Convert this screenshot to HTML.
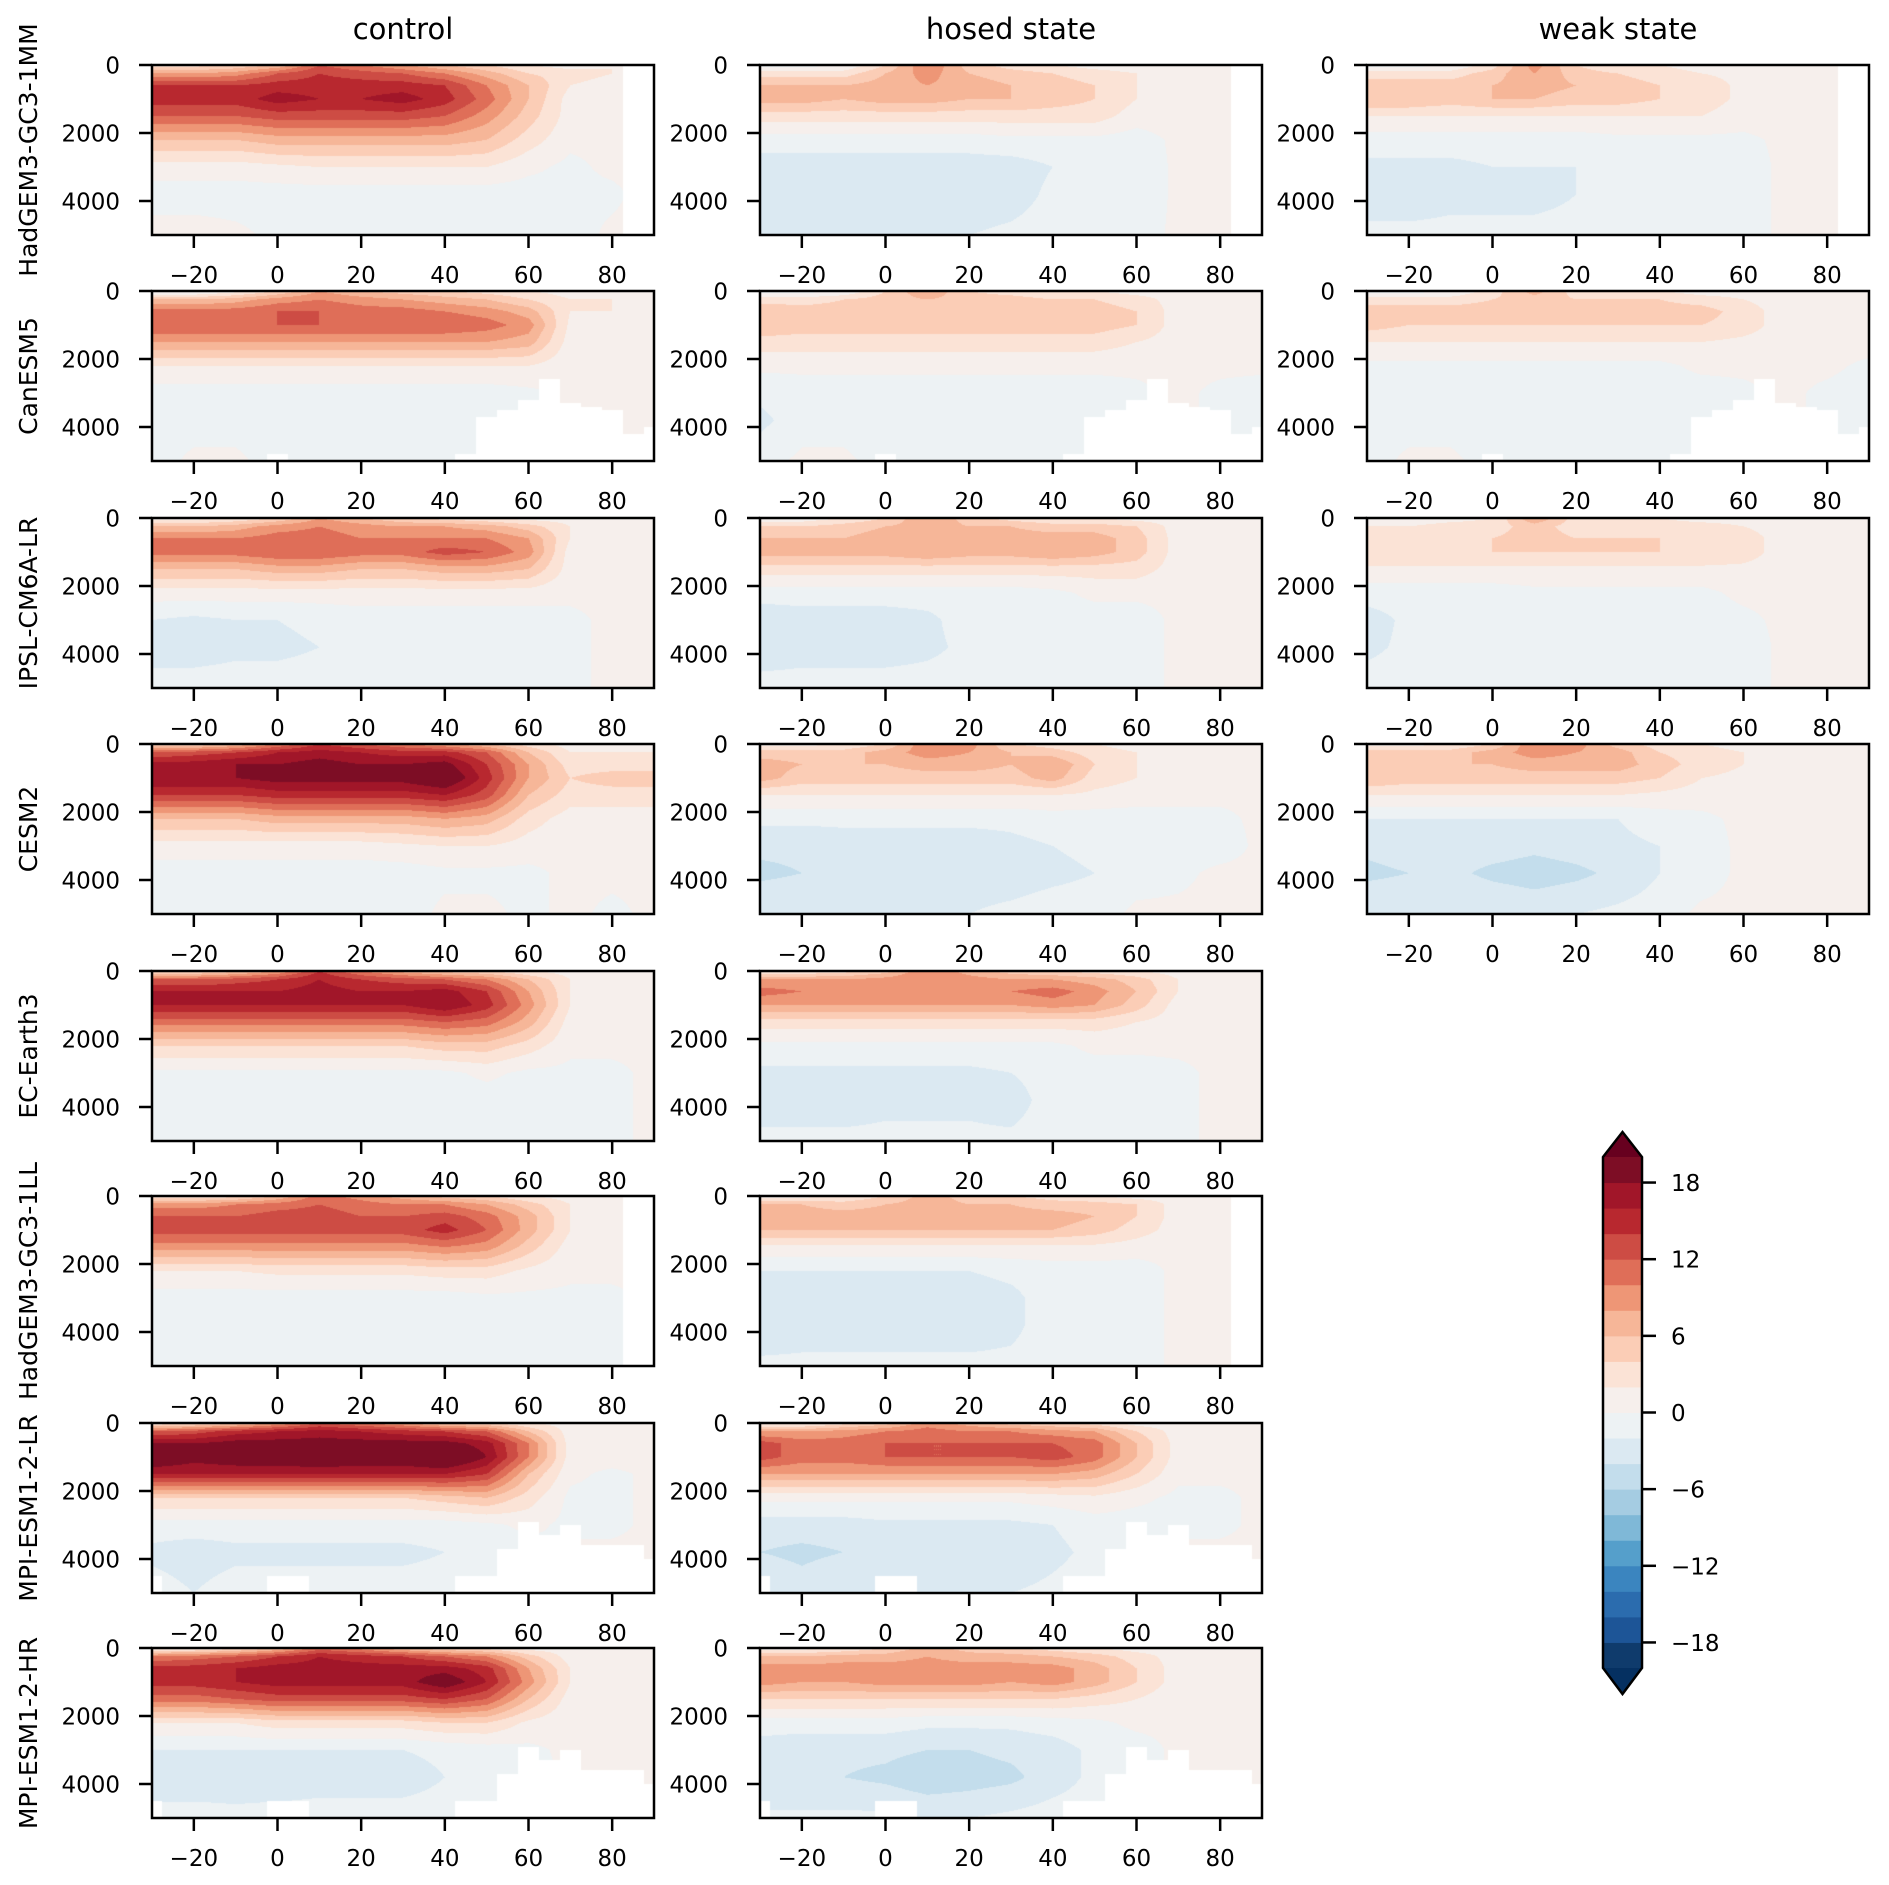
<!DOCTYPE html>
<html><head><meta charset="utf-8">
<style>
html,body{margin:0;padding:0;background:#fff;}
#wrap{position:relative;width:1889px;height:1885px;overflow:hidden;}
canvas,svg{position:absolute;left:0;top:0;}
text{font-family:"DejaVu Sans","Liberation Sans",sans-serif;fill:#000;}
</style></head>
<body>
<div id="wrap">
<canvas id="cv" width="1889" height="1885"></canvas>
<svg id="sv" width="1889" height="1885" xmlns="http://www.w3.org/2000/svg"></svg>
</div>
<script>
const lats = [-30,-20,-10,0,10,20,30,40,50,60,70,80,90];
const depths = [0,250,600,1000,1500,2200,3000,3800,5000];
const xTicks = [-20,0,20,40,60,80];
const xTickLabels = ["\u221220","0","20","40","60","80"];
const yTicks = [0,2000,4000];
const yTickLabels = ["0","2000","4000"];
const levels = [-20,-18,-16,-14,-12,-10,-8,-6,-4,-2,0,2,4,6,8,10,12,14,16,18,20];
const colors = ["#0f3b6c","#1d5597","#2b6cae","#3b85bf","#559fcb","#7fb8d7","#a5cce2","#c3ddec","#dbe9f2","#edf2f4","#f6efec","#fbe3d6","#fbcdb6","#f6b698","#ee9676","#df6e58","#cd4c44","#b8282f","#a11629","#7d0d25"];
const cbTicks = [18,12,6,0,-6,-12,-18];
const cbTickLabels = ["18","12","6","0","\u22126","\u221212","\u221218"];
const columns = ["control","hosed state","weak state"];
const models = ["HadGEM3-GC3-1MM","CanESM5","IPSL-CM6A-LR","CESM2","EC-Earth3","HadGEM3-GC3-1LL","MPI-ESM1-2-LR","MPI-ESM1-2-HR"];
const maskLats = [-30,-25,-20,-15,-10,-5,0,5,10,15,20,25,30,35,40,45,50,55,60,65,70,75,80,85,90];
const bottomHad = [5000,5000,5000,5000,5000,5000,5000,5000,5000,5000,5000,5000,5000,5000,5000,5000,5000,5000,5000,5000,5000,5000,5000,0,0];
const bottomCan = [5000,5000,5000,5000,5000,5000,4800,5000,5000,5000,5000,5000,5000,5000,5000,4800,3700,3500,3200,2600,3300,3400,3500,4200,4000];
const bottomMPI = [4500,5000,5000,5000,5000,5000,4500,4500,5000,5000,5000,5000,5000,5000,5000,4500,4500,3700,2900,3300,3000,3600,3600,3600,4000];
const bottomFull = [5000,5000,5000,5000,5000,5000,5000,5000,5000,5000,5000,5000,5000,5000,5000,5000,5000,5000,5000,5000,5000,5000,5000,5000,5000];

const hadmmControl = [
[3,3,4,6,12,10,8,6,4,2,1,2,1],
[8,8,9,12,14,13,12,10,7,4,3,2,1],
[14,14,14,15,15,15,15,14,10,6,2,1,1],
[15,15,15,17,16,16,17,15,11,6,1,1,1],
[12,12,12,13,13,13,13,12,9,5,1,0.5,1],
[6,6,6,7,7,7,7,7,6,3,0.5,0.5,1],
[1,1,1,1.5,2,2,2,2,2,0.5,-0.5,0.5,1],
[-1,-1,-1,-1,-1,-1,-1,-1,-1,-1,-0.5,-0.5,1],
[1,1,0.5,-0.5,-1,-1,-1,-1,-1,-1,-1,0.5,1]];
const hadmmHosed = [
[-1,-1,0,4,10,5,3,2,1,0.5,1,1,1],
[3,3,3,6,9,6,5,4,3,2,1,1,1],
[6,6,6,7,8,7,6,5,4,2,1,1,1],
[7,7,6,7,7,6,6,5,4,2,1,1,1],
[3,3,3,3,3,3,3,3,3,1,1,1,1],
[-1,-1,-1,-1,-1,-1,-0.5,-0.5,-0.5,-1,0.5,0.5,1],
[-3,-3,-3,-3,-3,-3,-3,-2,-1.5,-1.5,0.5,0.5,1],
[-4,-4,-3.5,-3.5,-3.5,-3.5,-3,-1.5,-1.5,-1.5,0.5,0.5,1],
[-2,-2,-2,-2,-2,-2,-1.5,-1,-1,-1,0.5,0.5,1]];
const hadmmWeak = [
[-1,-1,0,3,9,4,2,2,1,0.5,1,1,1],
[3,3,3,5,8,5,4,3,2,1.5,1,1,1],
[5,5,5,6,7,6,5,4,3,1.5,1,1,1],
[6,6,5,6,6,5,5,4,3,1.5,1,1,1],
[2,2,2,2,2,2,2,2,2,1,1,1,1],
[-1,-1,-1,-1,-1,-1,-0.5,-0.5,-0.5,-0.5,0.5,0.5,1],
[-2.5,-2.5,-2.5,-2,-2,-2,-2,-1.5,-1,-1,0.5,0.5,1],
[-3,-3,-2.5,-2.5,-2.5,-2,-2,-1.5,-1,-1,0.5,0.5,1],
[-1.5,-1.5,-1.5,-1.5,-1.5,-1.5,-1,-1,-1,-1,0.5,0.5,1]];
const canControl = [
[-1,-1,1,4,8,6,5,4,3,2,1,1,1],
[6,6,7,9,10,9,8,7,6,4,2,2,1],
[11,11,11,12,12,11,11,10,9,7,2,2,1],
[12,12,12,12,12,12,12,12,11,9,1.5,1,1],
[8,8,8,8,8,8,8,8,8,7,1,1,1],
[2,2,2,2,2,2,2,2,2,2,0.5,0.5,0.5],
[-1,-1,-1,-1,-1,-1,-1,-1,-1,-0.5,0.5,0.5,0.5],
[-1,-1,-1,-1.5,-1.5,-1,-1,-1,-1,-1,0.5,0.5,0.5],
[-1,0.5,0.5,-1,-1,-1,-1,-1,-1,-1,0.5,0.5,0.5]];
const canHosed = [
[-1,-1,0,4,8,4,3,2,2,1,1,1,1],
[3,3,4,5,6,5,5,4,4,3,1,1,1],
[6,5,5,5,6,5,5,5,5,4,1,1,1],
[6,5,5,5,5,5,5,5,5,4,1,1,1],
[3,3,3,3,3,3,3,3,3,2,1,1,1],
[0.5,0.5,0.5,0.5,0.5,0.5,0.5,0.5,0.5,0.5,0.5,0.5,0.5],
[-1.5,-1,-1,-1,-1,-1,-1,-1,-1,-0.5,0.5,-0.5,-1],
[-2.5,-1,-1,-1,-1.5,-1,-1,-1,-1,-1,0.5,-0.5,-1],
[-1,0.5,0.5,-1,-1,-1,-1,-1,-1,-1,0.5,-0.5,-1]];
const canWeak = [
[-1,-1,0,3,7,3,2,2,1,1,1,1,1],
[3,3,3,4,5,4,4,4,3,2,1,1,1],
[5,5,5,5,5,5,5,5,5,3,1,1,1],
[5,4,4,4,4,4,4,4,4,3,1,1,1],
[2,2,2,2,2,2,2,2,2,1.5,1,1,1],
[-0.5,-0.5,-0.5,-0.5,-0.5,-0.5,-0.5,-0.5,0.5,0.5,0.5,0.5,-0.5],
[-1,-1,-1,-1,-1,-1,-1,-1,-1,-0.5,0.5,-0.5,-1],
[-1,-1,-1,-1,-1.5,-1,-1,-1,-1,-1,0.5,-0.5,-1],
[-1,0.5,0.5,-1,-1,-1,-1,-1,-1,-1,0.5,-0.5,-1]];
const ipslControl = [
[0.5,1,2,4,8,6,4,3,2,1,1,1,1],
[6,6,7,9,10,9,8,8,7,5,2,1,1],
[10,10,10,11,11,10,10,10,10,8,2,1,1],
[11,11,11,12,12,11,11,13,12,9,1,1,1],
[6,6,6,7,7,6,6,7,7,6,1,1,1],
[1,1,1,1,1,1,1,1,1,1,0.5,0.5,1],
[-2,-2.5,-2,-2,-1.5,-1,-1,-1,-1,-1,-0.5,0.5,1],
[-3,-3,-2.5,-2.5,-2,-2,-1,-1,-1,-1,-0.5,0.5,1],
[-1,-1,-1,-1,-1,-1,-1,-1,-1,-1,-0.5,0.5,1]];
const ipslHosed = [
[0,0.5,2,4,8,5,3,2,2,1,1,1,1],
[4,4,5,6,7,6,6,5,5,4,1,1,1],
[6,6,6,7,8,7,7,7,7,5,1,1,1],
[7,7,7,7,8,7,7,8,7,5,1,1,1],
[3,3,3,3,3,3,3,3,3,3,1,1,1],
[-1,-1,-1,-1,-1,-1,-1,-0.5,0.5,0.5,0.5,0.5,1],
[-3.5,-3,-3,-3,-2.5,-1,-1,-1,-1,-1,0.5,0.5,1],
[-3.5,-3,-3,-3,-2.5,-1.5,-1,-1,-1,-1,0.5,0.5,1],
[-1,-1,-1,-1,-1,-1,-1,-1,-1,-1,0.5,0.5,1]];
const ipslWeak = [
[0,0.5,1,2,8,3,2,2,1,1,1,1,1],
[2,2,3,3,5,3,3,3,3,2,1,1,1],
[3,3,3,4,5,4,4,4,3,3,1,1,1],
[4,4,4,4,4,4,4,4,4,3,1,1,1],
[1.5,1.5,1.5,1.5,1.5,1.5,1.5,1.5,1.5,1.5,1,1,1],
[-1,-1,-1,-1,-0.5,-0.5,-0.5,-0.5,-0.5,0.5,0.5,1,1],
[-3,-1.5,-1,-1,-1,-1,-1,-1,-1,-0.5,0.5,1,1],
[-2.5,-1.5,-1.5,-1,-1,-1,-1,-1,-1,-1,0.5,1,1],
[-1,-1,-1,-1,-1,-1,-1,-1,-1,-1,0.5,1,1]];
const cesmControl = [
[4,4,6,10,14,12,10,8,6,3,1,1,1],
[12,13,14,16,17,16,15,15,12,6,2,2,2],
[17,17,18,18,19,18,18,19,14,8,3,3,3],
[18,18,18,19,19,19,19,21,15,8,4,5,5],
[14,14,14,15,15,15,15,16,13,6,3,3,3],
[6,6,6,7,7,7,7,8,7,3,1,1,1],
[1,1,1,1,1,1,1.5,2,2,1,0.5,0.5,0.5],
[-1,-1,-1,-1,-1,-1,-1,-0.5,-0.5,-0.5,0.5,0.5,0.5],
[-1,-1,-1,-1,-1,-1,-1,0.5,0.5,-0.5,0.5,-0.5,0.5]];
const cesmHosed = [
[1,1,2,4,10,9,4,3,2,1,0.5,0.5,0.5],
[5,5,5,7,9,8,6,5,3,2,1,1,1],
[7,6,6,6,7,7,6,8,4,2,1,1,1],
[7,5,5,5,5,5,5,7,3,2,1,1,1],
[2,2,2,2,2,2,2,2,1.5,1,0.5,0.5,0.5],
[-1.5,-1.5,-1.5,-1.5,-1.5,-1.5,-1.5,-1,-1,-1,-0.5,-0.5,0.5],
[-3.5,-3.5,-3,-3,-3,-3,-2.5,-2,-1.5,-1,-1,-1,0.5],
[-4.5,-4,-3.5,-4,-3.5,-3,-3,-2.5,-2,-1,-0.5,0.5,0.5],
[-2,-2,-2,-2,-2,-2,-1.5,-1,-1,0.5,0.5,0.5,0.5]];
const cesmWeak = [
[1,1,2,4,10,9,5,3,2,1,1,1,1],
[5,5,5,7,9,8,7,4,3,2,1,1,1],
[6,6,6,6,7,7,7,5,3,2,1,1,1],
[6,5,5,5,5,5,5,4,2,1.5,1,1,1],
[2,2,2,2,2,2,2,1.5,1,1,1,1,1],
[-2,-2,-2,-2,-2,-2,-2,-1,-0.5,0.5,0.5,0.5,0.5],
[-3.5,-3,-3,-3,-3.5,-3,-2.5,-2,-1,0.5,0.5,0.5,0.5],
[-4.5,-4,-3.5,-4.5,-5,-4.5,-3.5,-2,-1,0.5,0.5,0.5,0.5],
[-2,-2,-2,-2,-2.5,-2,-1.5,-1,0.5,0.5,0.5,0.5,0.5]];
const ecControl = [
[3,3,5,8,14,10,7,5,4,2,1,1,1],
[12,12,13,14,16,14,13,12,10,6,2,1,1],
[16,16,16,16,17,16,16,17,14,8,2,1,1],
[16,16,16,16,16,16,16,18,15,9,2,1,1],
[11,11,11,11,11,11,11,12,11,7,1,1,1],
[4,4,4,4,4,4,4,5,5,3,0.5,0.5,0.5],
[-0.5,-0.5,-0.5,-0.5,-0.5,-0.5,-0.5,-0.5,0.5,-0.5,-0.5,-0.5,0.5],
[-1,-1,-1,-1,-1,-1,-1,-1,-1,-1,-0.5,-0.5,0.5],
[-1,-1,-1,-1,-1,-1,-1,-1,-1,-1,-0.5,-0.5,0.5]];
const ecHosed = [
[2,2,3,5,10,7,5,4,3,2,1,1,1],
[8,8,8,9,10,9,8,8,7,5,2,1,1],
[11,10,10,10,10,10,10,11,9,6,2,1,1],
[8,8,8,8,8,8,8,9,8,5,1,1,1],
[3,3,3,3,3,3,3,3,3,2,1,1,1],
[-0.5,-0.5,-0.5,-0.5,-0.5,-0.5,-0.5,-0.5,0.5,0.5,0.5,0.5,0.5],
[-2.5,-2.5,-2.5,-2.5,-2.5,-2.5,-2,-1,-1,-1,-0.5,0.5,0.5],
[-3,-3,-3,-2.5,-2.5,-2.5,-3,-1,-1,-1,-0.5,0.5,0.5],
[-1.5,-1.5,-1.5,-1.5,-1.5,-1.5,-1.5,-1,-1,-1,-0.5,0.5,0.5]];
const hadllControl = [
[2,2,3,6,11,9,7,5,4,2,1,1,1],
[9,9,10,11,12,11,10,10,8,5,2,1,1],
[12,12,12,13,13,12,12,13,11,7,2,1,1],
[13,13,13,13,13,13,13,15,12,7,2,1,1],
[9,9,9,9,9,9,9,10,9,5,1,1,1],
[2,2,2,2.5,2.5,2.5,2.5,3,3,1.5,0.5,0.5,0.5],
[-1,-1,-1,-1,-1,-1,-1,-1,-0.5,-0.5,-0.5,-0.5,0.5],
[-1,-1,-1,-1,-1,-1,-1,-1,-1,-1,-0.5,-0.5,0.5],
[-1,-1,-1,-1,-1,-1,-1,-1,-1,-1,-0.5,-0.5,0.5]];
const hadllHosed = [
[1,1,2,4,7,5,4,3,2,1,1,1,1],
[6,6,5,6,7,6,6,5,5,4,1,1,1],
[8,7,7,7,7,7,7,7,6,4,1,1,1],
[6,6,6,6,6,6,6,6,5,3,1,1,1],
[1.5,1.5,1.5,1.5,1.5,1.5,1.5,1.5,1.5,1,0.5,0.5,0.5],
[-2,-2,-2,-2,-2,-2,-1.5,-1,-1,-1,0.5,0.5,0.5],
[-3,-3,-3,-3,-3,-3,-2.5,-1,-1,-1,0.5,0.5,0.5],
[-3.5,-3,-3,-3,-3,-3,-2.5,-1,-1,-1,0.5,0.5,0.5],
[-1.5,-1.5,-1.5,-1.5,-1.5,-1.5,-1.5,-1,-1,-1,0.5,0.5,0.5]];
const mpilrControl = [
[2,3,5,8,12,10,8,5,4,2,1,1,1],
[12,13,15,16,17,16,15,14,12,6,1,1,1],
[18,18,19,19,19,19,19,19,17,10,1,1,1],
[21,19,20,20,21,20,20,22,18,10,1,1,1],
[16,16,16,16,16,16,16,16,14,6,0.5,-0.5,0.5],
[4,4,4,4,4,4,4,5,6,3,-0.5,-0.5,0.5],
[-1,-1,-1,-1,-1,-1,-1,-1,-0.5,0.5,-0.5,-0.5,0.5],
[-2.5,-3,-2.5,-2.5,-2.5,-2.5,-2.5,-2,-1,-1,0.5,0.5,0.5],
[-1,-2,-1,-1,-1,-1,-1,-1,-1,-1,0.5,0.5,0.5]];
const mpilrHosed = [
[1,1,3,5,9,7,5,4,3,1,1,1,1],
[8,8,9,10,11,10,10,9,8,4,1,1,1],
[13,11,11,12,12,12,12,12,11,6,1,1,1],
[13,11,11,12,12,12,12,13,11,6,1,1,1],
[8,8,8,8,8,8,8,8,7,4,0.5,0.5,0.5],
[0.5,0.5,0.5,0.5,0.5,0.5,0.5,1,1.5,0.5,-0.5,-0.5,0.5],
[-3,-3,-3,-2.5,-2.5,-2.5,-2.5,-2,-1,-1,-0.5,-0.5,0.5],
[-4,-4.5,-4,-4,-4,-4,-3.5,-2.5,-1.5,-1,0.5,0.5,0.5],
[-2,-3,-2,-2,-2,-2,-2,-1.5,-1,-1,0.5,0.5,0.5]];
const mpihrControl = [
[1,1,3,6,11,9,6,4,3,1,1,1,1],
[10,11,12,14,16,15,14,12,10,5,1,1,1],
[15,15,16,17,17,17,17,17,15,8,2,1,1],
[15,15,16,17,17,17,17,20,16,9,2,1,1],
[11,11,12,13,13,13,13,14,12,6,1,1,1],
[2,2,2,3,3,3,3,4,4,1.5,0.5,0.5,0.5],
[-2,-2,-2,-2,-2,-2,-2,-1.5,-1,-0.5,0.5,0.5,0.5],
[-3.5,-3.5,-3,-3.5,-3,-3,-3,-2,-1,-1,0.5,0.5,0.5],
[-1,-1,-1.5,-1,-1,-1,-1,-1,-1,-1,0.5,0.5,0.5]];
const mpihrHosed = [
[1,1,2,4,7,5,4,3,2,1,1,1,1],
[6,6,7,7,8,7,7,6,5,3,1,1,1],
[9,9,9,9,9,9,9,9,7,4,1,1,1],
[9,8,8,9,9,9,8,9,7,4,1,1,1],
[4,4,4,4,4,4,4,4,3,2,0.5,0.5,0.5],
[-1,-1,-1,-1,-1.5,-1.5,-1.5,-1,-0.5,0.5,0.5,0.5,0.5],
[-3,-3.5,-3.5,-3.5,-4,-4,-3.5,-3,-1.5,-1,0.5,0.5,0.5],
[-4,-4,-4,-4.5,-5.5,-5,-4.5,-3,-1.5,-1,0.5,0.5,0.5],
[-1.5,-1.5,-1.5,-1.5,-2,-2,-1.5,-1,-1,-1,0.5,0.5,0.5]];

const fieldsByModel = [
 [hadmmControl,hadmmHosed,hadmmWeak],
 [canControl,canHosed,canWeak],
 [ipslControl,ipslHosed,ipslWeak],
 [cesmControl,cesmHosed,cesmWeak],
 [ecControl,ecHosed,null],
 [hadllControl,hadllHosed,null],
 [mpilrControl,mpilrHosed,null],
 [mpihrControl,mpihrHosed,null]];
const bottomsByModel = [bottomHad,bottomCan,bottomFull,bottomFull,bottomFull,bottomHad,bottomMPI,bottomMPI];

// layout
const colX = [152,760,1367];
const PW = 502, PH = 170;
const rowY = [65,291,518,744,971,1196,1423,1648];
const NS = "http://www.w3.org/2000/svg";
const svg = document.getElementById('sv');
const ctx = document.getElementById('cv').getContext('2d');

function mk(tag, attrs, parent){
  const e = document.createElementNS(NS, tag);
  for (const k in attrs) e.setAttribute(k, attrs[k]);
  (parent||svg).appendChild(e);
  return e;
}
function xScale(lat, x0){ return x0 + (lat + 30) / 120 * PW; }
function yScale(d, y0){ return y0 + d / 5000 * PH; }
function interp1(arr, v){
  let i = 0;
  while (i < arr.length - 2 && v > arr[i+1]) i++;
  let t = (v - arr[i]) / (arr[i+1] - arr[i]);
  t = Math.max(0, Math.min(1, t));
  return [i, t];
}
function colorIdx(v){
  let k = Math.floor((v - levels[0]) / 2);
  return Math.max(0, Math.min(colors.length - 1, k));
}
function hexRgb(h){ return [parseInt(h.substr(1,2),16),parseInt(h.substr(3,2),16),parseInt(h.substr(5,2),16)]; }
const rgb = colors.map(hexRgb);

function drawField(field, bottom, x0, y0){
  const img = ctx.createImageData(PW, PH);
  for (let py = 0; py < PH; py++){
    const d = (py + 0.5) / PH * 5000;
    const [j, tj] = interp1(depths, d);
    for (let px = 0; px < PW; px++){
      const lat = -30 + (px + 0.5) / PW * 120;
      const mi = Math.round((lat + 30) / 5);
      const o = (py * PW + px) * 4;
      if (d > bottom[Math.min(mi, bottom.length-1)]) { img.data[o]=255;img.data[o+1]=255;img.data[o+2]=255;img.data[o+3]=255; continue; }
      const [i, ti] = interp1(lats, lat);
      const v = (1-tj)*((1-ti)*field[j][i] + ti*field[j][i+1]) + tj*((1-ti)*field[j+1][i] + ti*field[j+1][i+1]);
      const c = rgb[colorIdx(v)];
      img.data[o]=c[0]; img.data[o+1]=c[1]; img.data[o+2]=c[2]; img.data[o+3]=255;
    }
  }
  ctx.putImageData(img, x0, y0);
}

// column titles
columns.forEach((c, ci) => {
  const t = mk('text', {x: colX[ci] + PW/2, y: 39, 'text-anchor':'middle', 'font-size':29});
  t.textContent = c;
  
  
});

models.forEach((m, ri) => {
  const y0 = rowY[ri];
  const lab = mk('text', {x: 0, y: 0, 'text-anchor':'middle', 'font-size':25, transform: 'translate(37,' + (y0 + PH/2) + ') rotate(-90)'});
  lab.textContent = m;
  
  
  fieldsByModel[ri].forEach((field, ci) => {
    if (!field) return;
    const x0 = colX[ci];
    drawField(field, bottomsByModel[ri], x0, y0);
    const g = mk('g', {});
    
    
    mk('rect', {x: x0, y: y0, width: PW, height: PH, fill: 'none', stroke: '#000', 'stroke-width': 2.5}, g);
    xTicks.forEach((tv, k) => {
      const x = xScale(tv, x0);
      mk('line', {x1: x, x2: x, y1: y0 + PH, y2: y0 + PH + 13, stroke: '#000', 'stroke-width': 2.5}, g);
      const t = mk('text', {x: x, y: y0 + PH + 48, 'text-anchor': 'middle', 'font-size': 23}, g);
      t.textContent = xTickLabels[k];
      
      
    });
    yTicks.forEach((tv, k) => {
      const y = yScale(tv, y0);
      mk('line', {x1: x0 - 13, x2: x0, y1: y, y2: y, stroke: '#000', 'stroke-width': 2.5}, g);
      const t = mk('text', {x: x0 - 32, y: y + 8.5, 'text-anchor': 'end', 'font-size': 23}, g);
      t.textContent = yTickLabels[k];
      
      
    });
  });
});

// colorbar
const cbX = 1603, cbW = 39, cbTop = 1157, cbBot = 1668;
function cbY(v){ return cbBot - (v - levels[0]) / (levels[levels.length-1] - levels[0]) * (cbBot - cbTop); }
const cb = mk('g', {});


colors.forEach((c, k) => {
  const r = mk('rect', {x: cbX, y: cbY(levels[k+1]), width: cbW, height: cbY(levels[k]) - cbY(levels[k+1]) + 0.5, fill: c}, cb);
  
  
});
mk('polygon', {points: cbX+','+cbTop+' '+(cbX+cbW/2)+',1132 '+(cbX+cbW)+','+cbTop, fill: '#67001f'}, cb);
mk('polygon', {points: cbX+','+cbBot+' '+(cbX+cbW/2)+',1694 '+(cbX+cbW)+','+cbBot, fill: '#053061'}, cb);
mk('polygon', {points: cbX+','+cbTop+' '+(cbX+cbW/2)+',1132 '+(cbX+cbW)+','+cbTop+' '+(cbX+cbW)+','+cbBot+' '+(cbX+cbW/2)+',1694 '+cbX+','+cbBot, fill: 'none', stroke: '#000', 'stroke-width': 2.5}, cb);
cbTicks.forEach((tv, k) => {
  const y = cbY(tv);
  mk('line', {x1: cbX + cbW, x2: cbX + cbW + 14, y1: y, y2: y, stroke: '#000', 'stroke-width': 2.5}, cb);
  const t = mk('text', {x: 1671, y: y + 8.5, 'font-size': 23}, cb);
  t.textContent = cbTickLabels[k];
  
  
});
</script>
</body></html>
